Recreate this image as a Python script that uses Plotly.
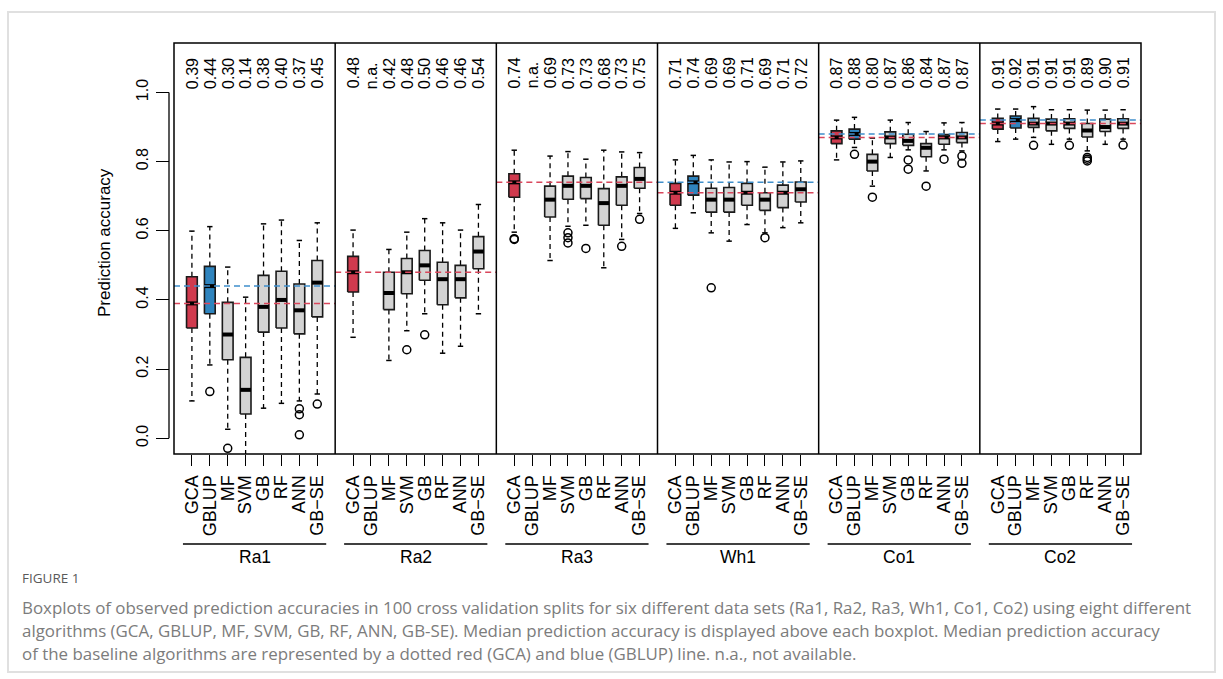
import plotly.graph_objects as go

# ---- data -----------------------------------------------------------------
DATASETS = ["Ra1", "Ra2", "Ra3", "Wh1", "Co1", "Co2"]
METHODS = ["GCA", "GBLUP", "MF", "SVM", "GB", "RF", "ANN", "GB\u2212SE"]

# median prediction accuracy per data set (rows) and method (columns); None = n.a.
MEDIAN = [
    [0.39, 0.44, 0.30, 0.14, 0.38, 0.40, 0.37, 0.45],
    [0.48, None, 0.42, 0.48, 0.50, 0.46, 0.46, 0.54],
    [0.74, None, 0.69, 0.73, 0.73, 0.68, 0.73, 0.75],
    [0.71, 0.74, 0.69, 0.69, 0.71, 0.69, 0.71, 0.72],
    [0.87, 0.88, 0.80, 0.87, 0.86, 0.84, 0.87, 0.87],
    [0.91, 0.92, 0.91, 0.91, 0.91, 0.89, 0.90, 0.91],
]
Q1 = [
    [0.319, 0.360, 0.227, 0.070, 0.307, 0.319, 0.302, 0.351],
    [0.423, None, 0.372, 0.418, 0.457, 0.386, 0.406, 0.490],
    [0.697, None, 0.640, 0.691, 0.693, 0.616, 0.674, 0.723],
    [0.674, 0.703, 0.654, 0.654, 0.674, 0.659, 0.667, 0.683],
    [0.852, 0.865, 0.773, 0.852, 0.847, 0.814, 0.850, 0.855],
    [0.894, 0.897, 0.899, 0.889, 0.896, 0.871, 0.887, 0.896],
]
Q3 = [
    [0.467, 0.497, 0.393, 0.234, 0.471, 0.483, 0.446, 0.514],
    [0.526, None, 0.480, 0.520, 0.543, 0.509, 0.500, 0.583],
    [0.765, None, 0.729, 0.758, 0.754, 0.722, 0.756, 0.783],
    [0.737, 0.758, 0.723, 0.725, 0.737, 0.710, 0.732, 0.741],
    [0.889, 0.894, 0.821, 0.886, 0.879, 0.852, 0.878, 0.884],
    [0.925, 0.932, 0.925, 0.923, 0.924, 0.910, 0.923, 0.924],
]
WHISKER_LO = [
    [0.108, 0.212, 0.026, -0.080, 0.087, 0.101, 0.108, 0.128],
    [0.292, None, 0.225, 0.311, 0.360, 0.246, 0.266, 0.360],
    [0.596, None, 0.514, 0.613, 0.616, 0.493, 0.575, 0.650],
    [0.607, 0.652, 0.594, 0.570, 0.618, 0.594, 0.609, 0.623],
    [0.805, 0.841, 0.729, 0.812, 0.834, 0.773, 0.834, 0.831],
    [0.858, 0.865, 0.870, 0.850, 0.865, 0.831, 0.850, 0.865],
]
WHISKER_HI = [
    [0.599, 0.612, 0.495, 0.408, 0.620, 0.631, 0.572, 0.623],
    [0.602, None, 0.546, 0.596, 0.635, 0.623, 0.602, 0.676],
    [0.833, None, 0.816, 0.829, 0.807, 0.833, 0.828, 0.826],
    [0.805, 0.818, 0.805, 0.799, 0.800, 0.784, 0.799, 0.802],
    [0.920, 0.928, 0.868, 0.920, 0.913, 0.887, 0.912, 0.913],
    [0.952, 0.952, 0.959, 0.950, 0.950, 0.949, 0.949, 0.950],
]
OUTLIERS = [
    [[], [0.135], [-0.029], [], [], [], [0.085, 0.068, 0.010], [0.099]],
    [[], [], [], [0.256], [0.299], [], [], []],
    [[0.577, 0.575], [], [], [0.594, 0.580, 0.565], [0.549], [], [0.555], [0.633]],
    [[], [], [0.435], [], [], [0.580], [], []],
    [[], [0.821], [0.697], [], [0.805, 0.778], [0.729], [0.807], [0.816, 0.795]],
    [[], [], [0.847], [], [0.847], [0.812, 0.807, 0.802], [], [0.848]],
]

Y_TICKS = [0.0, 0.2, 0.4, 0.6, 0.8, 1.0]

CAPTION_TITLE = "FIGURE 1"
CAPTION_LINES = [
    "Boxplots of observed prediction accuracies in 100 cross validation splits for six different data sets (Ra1, Ra2, Ra3, Wh1, Co1, Co2) using eight different",
    "algorithms (GCA, GBLUP, MF, SVM, GB, RF, ANN, GB-SE). Median prediction accuracy is displayed above each boxplot. Median prediction accuracy",
    "of the baseline algorithms are represented by a dotted red (GCA) and blue (GBLUP) line. n.a., not available.",
]

# ---- styling ----------------------------------------------------------------
FONT = "Liberation Sans, Arial, Helvetica, sans-serif"
RED_FILL = "#D03A4E"
BLUE_FILL = "#2F84BE"
GRAY_FILL = "#D3D3D3"
RED_LINE = "#D9475C"
BLUE_LINE = "#3F8FCB"
BOX_HALF = 0.30
CAP_HALF = 0.15
SLOT = 9  # slots per data set: 8 methods + spacing

# geometry of the plotting region in pixels
W, H = 1223, 679
PL, PR, PT, PB = 174, 1141, 43, 454


def px_x(px):
    return (px - PL) / (PR - PL)


def px_y(py):
    return (PB - py) / (PB - PT)


def pos(k, j):
    return SLOT * k + 1 + j


fig = go.Figure()

boxes = {RED_FILL: ([], []), BLUE_FILL: ([], []), GRAY_FILL: ([], [])}
med_x, med_y = [], []
wh_x, wh_y = [], []
cap_x, cap_y = [], []
out_x, out_y = [], []

for k in range(len(DATASETS)):
    for j in range(len(METHODS)):
        m = MEDIAN[k][j]
        if m is None:
            continue
        p = pos(k, j)
        q1, q3 = Q1[k][j], Q3[k][j]
        lo, hi = WHISKER_LO[k][j], WHISKER_HI[k][j]
        fill = RED_FILL if j == 0 else BLUE_FILL if j == 1 else GRAY_FILL
        bx, by = boxes[fill]
        bx += [p - BOX_HALF, p + BOX_HALF, p + BOX_HALF, p - BOX_HALF, p - BOX_HALF, None]
        by += [q1, q1, q3, q3, q1, None]
        med_x += [p - BOX_HALF, p + BOX_HALF, None]
        med_y += [m, m, None]
        wh_x += [p, p, None, p, p, None]
        wh_y += [q3, hi, None, q1, lo, None]
        cap_x += [p - CAP_HALF, p + CAP_HALF, None, p - CAP_HALF, p + CAP_HALF, None]
        cap_y += [hi, hi, None, lo, lo, None]
        for o in OUTLIERS[k][j]:
            out_x.append(p)
            out_y.append(o)

# whiskers (dashed) and staples
fig.add_trace(go.Scatter(x=wh_x, y=wh_y, mode="lines", hoverinfo="skip",
                         line=dict(color="black", width=1.3, dash="5px,4px")))
fig.add_trace(go.Scatter(x=cap_x, y=cap_y, mode="lines", hoverinfo="skip",
                         line=dict(color="black", width=1.5)))
# boxes
for fill, (bx, by) in boxes.items():
    fig.add_trace(go.Scatter(x=bx, y=by, mode="lines", fill="toself", fillcolor=fill,
                             hoverinfo="skip", line=dict(color="#1a1a1a", width=1.6)))
# medians
fig.add_trace(go.Scatter(x=med_x, y=med_y, mode="lines", hoverinfo="skip",
                         line=dict(color="black", width=4)))
# outliers
fig.add_trace(go.Scatter(x=out_x, y=out_y, mode="markers", hoverinfo="skip",
                         marker=dict(symbol="circle-open", size=8, color="black",
                                     line=dict(width=1.5, color="black"))))

# baseline medians (GCA red, GBLUP blue) across each panel
ref_red_x, ref_red_y, ref_blue_x, ref_blue_y = [], [], [], []
for k in range(len(DATASETS)):
    x0, x1 = SLOT * k, SLOT * (k + 1)
    if MEDIAN[k][0] is not None:
        ref_red_x += [x0, x1, None]
        ref_red_y += [MEDIAN[k][0]] * 2 + [None]
    if MEDIAN[k][1] is not None:
        ref_blue_x += [x0, x1, None]
        ref_blue_y += [MEDIAN[k][1]] * 2 + [None]
fig.add_trace(go.Scatter(x=ref_red_x, y=ref_red_y, mode="lines", hoverinfo="skip",
                         line=dict(color=RED_LINE, width=1.5, dash="6px,4px")))
fig.add_trace(go.Scatter(x=ref_blue_x, y=ref_blue_y, mode="lines", hoverinfo="skip",
                         line=dict(color=BLUE_LINE, width=1.5, dash="6px,4px")))

annotations = []
# median labels above each box
for k in range(len(DATASETS)):
    for j in range(len(METHODS)):
        m = MEDIAN[k][j]
        annotations.append(dict(
            x=pos(k, j), y=1.005, xref="x", yref="y",
            text="n.a." if m is None else f"{m:.2f}",
            textangle=-90, xanchor="center", yanchor="bottom", showarrow=False,
            font=dict(family=FONT, size=16, color="black")))

shapes = []
# panel separators
for k in range(1, len(DATASETS)):
    shapes.append(dict(type="line", xref="x", yref="paper", x0=SLOT * k, x1=SLOT * k,
                       y0=0, y1=1, line=dict(color="black", width=1.5)))
# plot frame
shapes.append(dict(type="rect", xref="paper", yref="paper", x0=0, x1=1, y0=0, y1=1,
                   line=dict(color="black", width=1.5)))
# y axis line from 0 to 1
shapes.append(dict(type="line", xref="paper", yref="y", x0=px_x(169), x1=px_x(169),
                   y0=Y_TICKS[0], y1=Y_TICKS[-1], line=dict(color="black", width=1.3)))
# group underlines and names
for k, name in enumerate(DATASETS):
    shapes.append(dict(type="line", xref="x", yref="paper",
                       x0=SLOT * k + 0.5, x1=SLOT * k + 8.5,
                       y0=px_y(544), y1=px_y(544), line=dict(color="black", width=1.3)))
    annotations.append(dict(x=SLOT * k + 4.5, y=px_y(557), xref="x", yref="paper",
                            text=name, showarrow=False, xanchor="center", yanchor="middle",
                            font=dict(family=FONT, size=17.5, color="black")))

# y-axis title
annotations.append(dict(x=px_x(105), y=px_y(243), xref="paper", yref="paper",
                        text="Prediction accuracy", textangle=-90, showarrow=False,
                        xanchor="center", yanchor="middle",
                        font=dict(family=FONT, size=17, color="black")))

# caption
CAP_FONT = "Open Sans, Lato, sans-serif"
annotations.append(dict(x=px_x(20), y=px_y(578), xref="paper", yref="paper",
                        text=CAPTION_TITLE, showarrow=False, xanchor="left", yanchor="middle",
                        font=dict(family=CAP_FONT, size=13.5, color="#5a5a5a")))
for i, line in enumerate(CAPTION_LINES):
    annotations.append(dict(x=px_x(20), y=px_y(607 + 23 * i), xref="paper", yref="paper",
                            text=line, showarrow=False, xanchor="left", yanchor="middle",
                            font=dict(family=CAP_FONT, size=16.9, color="#7c7c7c")))

# outer figure frame
shapes.append(dict(type="rect", xref="paper", yref="paper", layer="below",
                   x0=px_x(8), x1=px_x(1215), y0=px_y(12), y1=px_y(672),
                   line=dict(color="#E0E0E0", width=2)))

tick_positions = [pos(k, j) for k in range(len(DATASETS)) for j in range(len(METHODS))]
tick_text = METHODS * len(DATASETS)

fig.update_layout(
    width=W, height=H,
    margin=dict(l=PL, r=W - PR, t=PT, b=H - PB),
    plot_bgcolor="white", paper_bgcolor="white",
    showlegend=False,
    shapes=shapes, annotations=annotations,
    xaxis=dict(range=[0, SLOT * len(DATASETS)], tickvals=tick_positions, ticktext=tick_text,
               tickangle=-90, ticks="outside", ticklen=11, tickwidth=1.3, tickcolor="black",
               showgrid=False, zeroline=False, showline=False, ticklabelstandoff=2,
               tickfont=dict(family=FONT, size=18, color="black")),
    yaxis=dict(range=[-0.0455, 1.143], tickvals=Y_TICKS,
               ticktext=[f"{v:.1f}" for v in Y_TICKS], tickangle=-90,
               anchor="free", position=0, shift=-5,
               ticks="outside", ticklen=13, tickwidth=1.3, tickcolor="black",
               showgrid=False, zeroline=False, showline=False, ticklabelstandoff=2,
               tickfont=dict(family=FONT, size=16, color="black")),
)

fig.write_html("out.html")
